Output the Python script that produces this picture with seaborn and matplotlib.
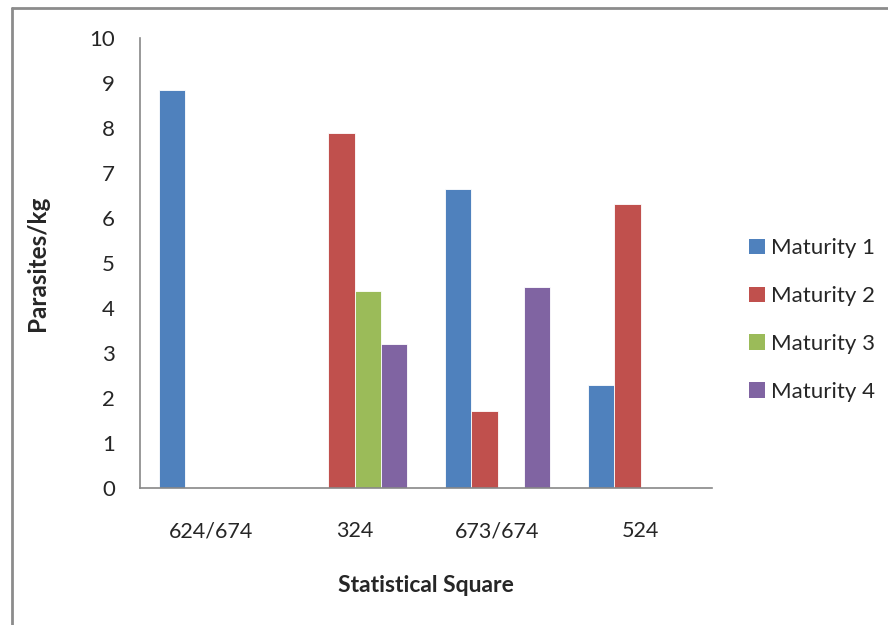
import matplotlib
matplotlib.use("Agg")
import matplotlib.pyplot as plt
import seaborn as sns
import pandas as pd
from matplotlib.lines import Line2D
from matplotlib.patches import Patch

squares = ["624/674", "324", "673/674", "524"]
maturity_1 = [8.85, 0.0, 6.64, 2.29]
maturity_2 = [0.0, 7.89, 1.71, 6.31]
maturity_3 = [0.0, 4.38, 0.0, 0.0]
maturity_4 = [0.0, 3.20, 4.47, 0.0]
series_names = ["Maturity 1", "Maturity 2", "Maturity 3", "Maturity 4"]
colors = ["#4F81BD", "#C0504D", "#9BBB59", "#8064A2"]

rows = []
for name, vals in zip(series_names, [maturity_1, maturity_2, maturity_3, maturity_4]):
    for sq, v in zip(squares, vals):
        rows.append({"Statistical Square": sq, "Maturity": name, "Parasites/kg": v})
df = pd.DataFrame(rows)

sns.set_style("white")
plt.rcParams["font.family"] = ["Lato", "DejaVu Sans"]

fig = plt.figure(figsize=(8.88, 6.25), dpi=100)
ax = fig.add_axes([140 / 888, 1 - 488 / 625, (712 - 140) / 888, (488 - 38) / 625])

sns.barplot(data=df, x="Statistical Square", y="Parasites/kg", hue="Maturity",
            order=squares, hue_order=series_names, palette=colors,
            width=0.73, ax=ax, legend=False, saturation=1,
            edgecolor="#ffffff", linewidth=0.6)

ax.set_ylim(0, 10)
ax.set_yticks(range(0, 11))
ax.set_xlim(-0.5, 3.5)
for s in ["top", "right"]:
    ax.spines[s].set_visible(False)
for s in ["left", "bottom"]:
    ax.spines[s].set_color("#888888")
    ax.spines[s].set_linewidth(1.2)
ax.tick_params(axis="both", length=0)
ax.tick_params(axis="y", labelsize=16, pad=18)
ax.tick_params(axis="x", labelsize=15.5, pad=24)
ax.set_xlabel("Statistical Square", fontsize=16.5, fontweight="bold", labelpad=24)
ax.set_ylabel("Parasites/kg", fontsize=17.5, fontweight="bold", labelpad=29)

handles = [Patch(facecolor=c, edgecolor="none") for c in colors]
leg = fig.legend(handles, series_names, loc="center left",
                 bbox_to_anchor=(729 / 888, 1 - 320 / 625), frameon=False,
                 fontsize=16, handlelength=0.7, handleheight=0.7,
                 handletextpad=0.3, labelspacing=1.25)

# outer chart frame
fig.add_artist(Line2D([12 / 888, 12 / 888], [0, 1 - 8 / 625], transform=fig.transFigure,
                      color="#8c8c8c", lw=2))
fig.add_artist(Line2D([12 / 888, 1], [1 - 8 / 625, 1 - 8 / 625], transform=fig.transFigure,
                      color="#8c8c8c", lw=2))

fig.savefig("out.png", dpi=100)
